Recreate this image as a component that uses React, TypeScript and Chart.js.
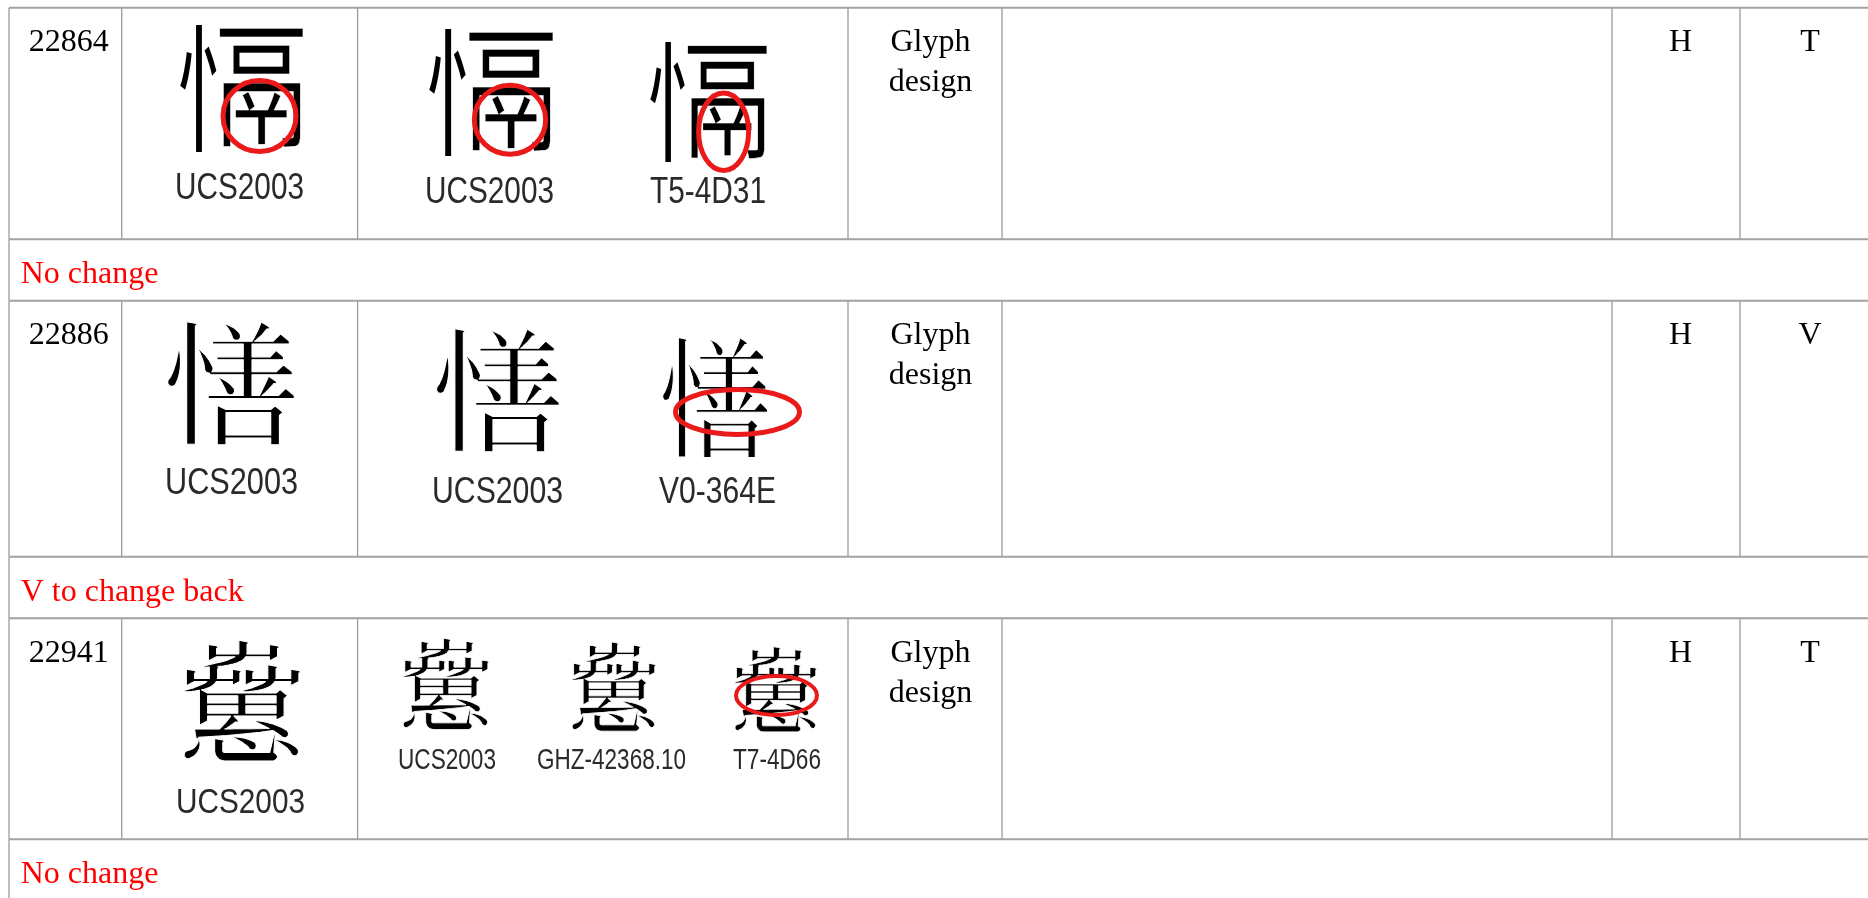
import React, { useEffect, useRef } from "react";
import { Chart, registerables } from "chart.js";

Chart.register(...registerables);

// ---------- data ----------
const ROW_IDS = ["22864", "22886", "22941"];
// the ideographs under review (U+22864, U+22886, U+22941)
const CHARS = ["\u{22864}", "\u{22886}", "\u{22941}"];
// components used to draw a character the installed fonts lack (U+22864 = 忄 + 鬲)
const GLYPH_PARTS: string[][] = [["忄", "鬲"], [], []];
const BASE_SOURCE = ["UCS2003", "UCS2003", "UCS2003"];
const EVIDENCE_SOURCES = [
  ["UCS2003", "T5-4D31"],
  ["UCS2003", "V0-364E"],
  ["UCS2003", "GHZ-42368.10", "T7-4D66"],
];
const BASE_CIRCLED = [true, false, false];
const EVIDENCE_CIRCLED = [
  [true, true],
  [false, true],
  [false, false, true],
];
const CATEGORY = ["Glyph design", "Glyph design", "Glyph design"];
const COL_H = ["H", "H", "H"];
const COL_LAST = ["T", "V", "T"];
const REMARKS = ["No change", "V to change back", "No change"];

// ---------- layout (table geometry, in scale units) ----------
const W = 1868;
const H = 898;
const COL_EDGES = [9, 121.7, 357.6, 848, 1002, 1612, 1740, 1871];
const ROW_EDGES = [7.7, 239.3, 300.7, 556.7, 618.3, 839.3, 900.7];

// glyph image placement inside cells: x relative to cell left, y relative to row top
type GlyphBox = { x0: number; x1: number; y0: number; y1: number; lcx: number; lbase: number; lcap: number; lw: number; ex: number; ey: number; rx: number; ry: number; elw: number };
const BASE_BOXES: GlyphBox[] = [
  { x0: 58.3, x1: 181.3, y0: 17.3, y1: 144.3, lcx: 117.8, lbase: 191.5, lcap: 26, lw: 129, ex: 137.8, ey: 108.3, rx: 36.5, ry: 35.5, elw: 5 },
  { x0: 46.3, x1: 174.3, y0: 21.3, y1: 145.3, lcx: 109.8, lbase: 193.3, lcap: 26, lw: 133, ex: 0, ey: 0, rx: 0, ry: 0, elw: 0 },
  { x0: 61.3, x1: 179.3, y0: 21.7, y1: 143.7, lcx: 118.8, lbase: 195, lcap: 25, lw: 129, ex: 0, ey: 0, rx: 0, ry: 0, elw: 0 },
];
const EVIDENCE_BOXES: GlyphBox[][] = [
  [
    { x0: 71.4, x1: 195.4, y0: 21.3, y1: 148.3, lcx: 131.9, lbase: 195.3, lcap: 26, lw: 129, ex: 152.4, ey: 112, rx: 35.7, ry: 34.5, elw: 5 },
    { x0: 292.4, x1: 409.4, y0: 35.3, y1: 155.3, lcx: 350.4, lbase: 195.3, lcap: 26, lw: 116, ex: 366, ey: 124, rx: 25, ry: 38.7, elw: 5 },
  ],
  [
    { x0: 78.4, x1: 202.4, y0: 28.3, y1: 152.3, lcx: 139.9, lbase: 202.3, lcap: 26, lw: 131, ex: 0, ey: 0, rx: 0, ry: 0, elw: 0 },
    { x0: 305.4, x1: 411.4, y0: 36.3, y1: 157.3, lcx: 359.9, lbase: 202.3, lcap: 26, lw: 117, ex: 379.9, ey: 111.3, rx: 62, ry: 22.5, elw: 5 },
  ],
  [
    { x0: 45.4, x1: 132.4, y0: 19.7, y1: 111.7, lcx: 89.4, lbase: 150.7, lcap: 21.5, lw: 98, ex: 0, ey: 0, rx: 0, ry: 0, elw: 0 },
    { x0: 214.4, x1: 299.4, y0: 23.7, y1: 113.7, lcx: 253.9, lbase: 150.7, lcap: 21.5, lw: 149, ex: 0, ey: 0, rx: 0, ry: 0, elw: 0 },
    { x0: 377.4, x1: 460.4, y0: 28.7, y1: 114.7, lcx: 419.4, lbase: 150.7, lcap: 21.5, lw: 88, ex: 418.9, ey: 77.2, rx: 40.5, ry: 19.5, elw: 4 },
  ],
];

const SERIF = '32px "Liberation Serif", "Times New Roman", serif';
const CJK = '"Noto Sans CJK TC", "Noto Sans CJK SC", "Noto Sans CJK JP", "Noto Sans CJK KR", sans-serif';
const LINE_GRAY = "#a2a2a2";
const RED = "#ff0000";
const ELLIPSE_RED = "#ea1a1a";

function buildLineDatasets() {
  const ds: any[] = [];
  ROW_EDGES.forEach((y) => {
    ds.push({
      data: [
        { x: COL_EDGES[0], y },
        { x: COL_EDGES[COL_EDGES.length - 1], y },
      ],
      showLine: true,
      borderColor: LINE_GRAY,
      borderWidth: 2,
      pointRadius: 0,
    });
  });
  for (let r = 0; r < ROW_EDGES.length - 1; r++) {
    const isDataRow = r % 2 === 0;
    COL_EDGES.forEach((x, ci) => {
      const outer = ci === 0 || ci === COL_EDGES.length - 1;
      if (!outer && !isDataRow) return;
      ds.push({
        data: [
          { x, y: ROW_EDGES[r] },
          { x, y: ROW_EDGES[r + 1] },
        ],
        showLine: true,
        borderColor: "#9c9c9c",
        borderWidth: 1.3,
        pointRadius: 0,
      });
    });
  }
  return ds;
}

function fitChar(ctx: CanvasRenderingContext2D, ch: string, x0: number, y0: number, x1: number, y1: number, erode: number) {
  ctx.save();
  ctx.font = `400 100px ${CJK}`;
  ctx.textAlign = "left";
  ctx.textBaseline = "alphabetic";
  const m = ctx.measureText(ch);
  const bw = m.actualBoundingBoxLeft + m.actualBoundingBoxRight;
  const bh = m.actualBoundingBoxAscent + m.actualBoundingBoxDescent;
  const sx = (x1 - x0) / bw;
  const sy = (y1 - y0) / bh;
  ctx.translate(x0 + m.actualBoundingBoxLeft * sx, y0 + m.actualBoundingBoxAscent * sy);
  ctx.scale(sx, sy);
  ctx.fillStyle = "#000";
  ctx.fillText(ch, 0, 0);
  if (erode > 0) {
    // thin the sans strokes slightly towards the lighter look of the reference glyphs
    ctx.strokeStyle = "#fff";
    ctx.lineJoin = "round";
    ctx.lineWidth = erode / ((sx + sy) / 2);
    ctx.strokeText(ch, 0, 0);
  }
  ctx.restore();
}

function drawGlyph(ctx: CanvasRenderingContext2D, i: number, x0: number, y0: number, x1: number, y1: number) {
  const h = y1 - y0;
  const w = x1 - x0;
  const erode = Math.max(0, h * 0.011 - 0.3);
  const parts = GLYPH_PARTS[i];
  if (parts && parts.length === 2) {
    fitChar(ctx, parts[0], x0, y0, x0 + w * 0.3, y1, 0);
    fitChar(ctx, parts[1], x0 + w * 0.32, y0 + h * 0.02, x1, y1 - h * 0.03, erode * 0.4);
  } else {
    fitChar(ctx, CHARS[i], x0, y0, x1, y1, erode);
  }
}

function drawLabel(ctx: CanvasRenderingContext2D, text: string, cx: number, base: number, cap: number, width: number) {
  ctx.save();
  const size = cap / 0.716;
  ctx.font = `${size}px "Liberation Sans", Arial, sans-serif`;
  const w = ctx.measureText(text).width;
  ctx.translate(cx, base);
  ctx.scale(width / w, 1);
  ctx.textAlign = "center";
  ctx.textBaseline = "alphabetic";
  ctx.fillStyle = "#2a2a2a";
  ctx.fillText(text, 0, 0);
  ctx.restore();
}

function drawEllipse(ctx: CanvasRenderingContext2D, cx: number, cy: number, rx: number, ry: number, lw: number) {
  ctx.save();
  ctx.strokeStyle = ELLIPSE_RED;
  ctx.lineWidth = lw;
  ctx.beginPath();
  ctx.ellipse(cx, cy, rx, ry, 0, 0, Math.PI * 2);
  ctx.stroke();
  ctx.restore();
}

const tablePlugin = {
  id: "tableContent",
  afterDatasetsDraw(chart: any) {
    const ctx: CanvasRenderingContext2D = chart.ctx;
    const xs = chart.scales.x;
    const ys = chart.scales.y;
    const X = (v: number) => xs.getPixelForValue(v);
    const Y = (v: number) => ys.getPixelForValue(v);
    const sX = (d: number) => X(d) - X(0);
    const sY = (d: number) => Y(d) - Y(0);

    ROW_IDS.forEach((id, i) => {
      const top = ROW_EDGES[i * 2];
      const remTop = ROW_EDGES[i * 2 + 1];
      const c1 = COL_EDGES[1];
      const c2 = COL_EDGES[2];

      ctx.save();
      ctx.font = SERIF;
      ctx.fillStyle = "#000";
      ctx.textBaseline = "alphabetic";
      ctx.textAlign = "left";
      ctx.fillText(id, X(COL_EDGES[0] + 19.7), Y(top + 43.3));

      ctx.textAlign = "center";
      const catCx = (COL_EDGES[3] + COL_EDGES[4]) / 2 + 5.5;
      CATEGORY[i].split(" ").forEach((p, k) => ctx.fillText(p, X(catCx), Y(top + 43.3 + k * 40)));
      ctx.fillText(COL_H[i], X((COL_EDGES[5] + COL_EDGES[6]) / 2 + 4.5), Y(top + 43.3));
      ctx.fillText(COL_LAST[i], X((COL_EDGES[6] + COL_EDGES[7]) / 2 + 4.5), Y(top + 43.3));

      ctx.textAlign = "left";
      ctx.fillStyle = RED;
      ctx.fillText(REMARKS[i], X(COL_EDGES[0] + 11.7), Y(remTop + 43.8));
      ctx.restore();

      const b = BASE_BOXES[i];
      drawGlyph(ctx, i, X(c1 + b.x0), Y(top + b.y0), X(c1 + b.x1), Y(top + b.y1));
      drawLabel(ctx, BASE_SOURCE[i], X(c1 + b.lcx), Y(top + b.lbase), sY(b.lcap), sX(b.lw));
      if (BASE_CIRCLED[i]) drawEllipse(ctx, X(c1 + b.ex), Y(top + b.ey), sX(b.rx), sY(b.ry), b.elw);

      EVIDENCE_SOURCES[i].forEach((src, k) => {
        const e = EVIDENCE_BOXES[i][k];
        drawGlyph(ctx, i, X(c2 + e.x0), Y(top + e.y0), X(c2 + e.x1), Y(top + e.y1));
        drawLabel(ctx, src, X(c2 + e.lcx), Y(top + e.lbase), sY(e.lcap), sX(e.lw));
        if (EVIDENCE_CIRCLED[i][k]) drawEllipse(ctx, X(c2 + e.ex), Y(top + e.ey), sX(e.rx), sY(e.ry), e.elw);
      });
    });
  },
};

export default function App() {
  const ref = useRef<HTMLCanvasElement | null>(null);
  useEffect(() => {
    if (!ref.current) return;
    const chart = new Chart(ref.current, {
      type: "scatter",
      data: { datasets: buildLineDatasets() },
      options: {
        animation: false,
        responsive: false,
        maintainAspectRatio: false,
        devicePixelRatio: 1,
        events: [],
        layout: { padding: 0 },
        plugins: {
          legend: { display: false },
          tooltip: { enabled: false },
          title: { display: false },
        },
        scales: {
          x: { type: "linear", min: 0, max: W, display: false },
          y: { type: "linear", min: 0, max: H, reverse: true, display: false },
        },
      } as any,
      plugins: [tablePlugin],
    });
    const fonts: Promise<any>[] = [];
    try {
      fonts.push((document as any).fonts.load(`100px ${CJK}`, CHARS.join("") + GLYPH_PARTS.flat().join("")));
      fonts.push((document as any).fonts.load(SERIF, "No change"));
      fonts.push((document as any).fonts.load('30px "Liberation Sans"', "UCS2003"));
    } catch (e) {}
    Promise.all(fonts).then(() => chart.draw()).catch(() => {});
    return () => chart.destroy();
  }, []);
  return (
    <div style={{ position: "fixed", left: 0, top: 0, width: W, height: H, background: "#fff" }}>
      <canvas ref={ref} width={W} height={H} style={{ width: W, height: H, display: "block" }} />
    </div>
  );
}
